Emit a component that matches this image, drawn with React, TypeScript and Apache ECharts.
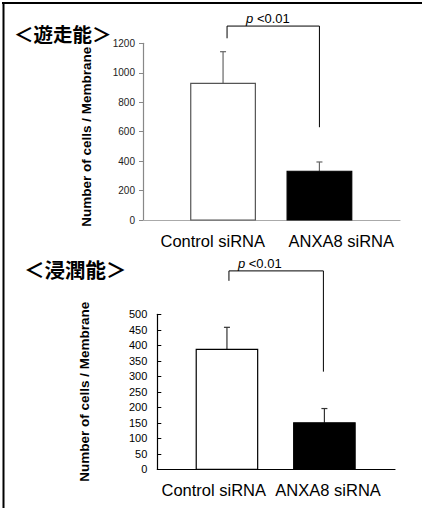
import React, { useEffect, useRef } from "react";
import * as echarts from "echarts";

// ---- data ----
const categories = ["Control siRNA", "ANXA8 siRNA"];

// migration (遊走能)
const migrationTitle = "＜遊走能＞";
const migrationMean = [928, 331];
const migrationSD = [215, 63];
const migrationTicks = { min: 0, max: 1200, interval: 200 };
// bracket: [left end value, top value, right end value]
const migrationBracket = [1234, 1317, 630];

// invasion (浸潤能)
const invasionTitle = "＜浸潤能＞";
const invasionMean = [387, 150];
const invasionSD = [71, 46];
const invasionTicks = { min: 0, max: 500, interval: 50 };
const invasionBracket = [608, 640, 315];

const yName = "Number of cells / Membrane";
const pText = "{i|p} <0.01";

const FONT = "Liberation Sans, Arial, sans-serif";

function barRenderer(opts: any) {
  return (params: any, api: any) => {
    const i = api.value(0);
    const mean = api.value(1);
    const sd = api.value(2);
    const catW = api.size([1, 0])[0];
    const top = api.coord([i, mean]);
    const base = api.coord([i, 0]);
    const errTop = api.coord([i, mean + sd]);
    const xc = top[0] + opts.shift[i] * catW;
    const bw = opts.barFrac * catW;
    return {
      type: "group",
      children: [
        {
          type: "line",
          shape: { x1: xc, y1: top[1], x2: xc, y2: errTop[1] },
          style: { stroke: opts.errColor, lineWidth: 1.2 },
        },
        {
          type: "line",
          shape: { x1: xc - 3, y1: errTop[1], x2: xc + 3, y2: errTop[1] },
          style: { stroke: opts.errColor, lineWidth: 1.2 },
        },
        {
          type: "rect",
          shape: { x: xc - bw / 2, y: top[1], width: bw, height: base[1] - top[1] },
          style: { fill: opts.fills[i], stroke: opts.strokes[i], lineWidth: 1.2 },
        },
      ],
    };
  };
}

function bracketRenderer(opts: any, bracket: number[]) {
  return (params: any, api: any) => {
    const catW = api.size([1, 0])[0];
    const x1 = api.coord([0, 0])[0] + opts.shift[0] * catW + opts.dxL;
    const x2 = api.coord([1, 0])[0] + opts.shift[1] * catW + opts.dxR;
    const yL = api.coord([0, bracket[0]])[1];
    const yT = api.coord([0, bracket[1]])[1];
    const yR = api.coord([1, bracket[2]])[1];
    return {
      type: "group",
      children: [
        {
          type: "polyline",
          shape: { points: [[x1, yL], [x1, yT], [x2, yT], [x2, yR]] },
          style: { stroke: "#000", lineWidth: 1, fill: null },
        },
        {
          type: "text",
          x: x1 + opts.textDx,
          y: yT - 1,
          style: {
            text: pText,
            fill: "#000",
            fontSize: 13,
            fontFamily: FONT,
            align: "left",
            verticalAlign: "bottom",
            rich: { i: { fontStyle: "italic", fontSize: 13, fontFamily: FONT, fill: "#000" } },
          },
        },
      ],
    };
  };
}

export default function App() {
  const ref = useRef<HTMLDivElement>(null);
  useEffect(() => {
    if (!ref.current) return;
    const chart = echarts.init(ref.current, null, { renderer: "svg" });

    const topOpts = {
      shift: [0.123, -0.127],
      barFrac: 0.503,
      errColor: "#666",
      fills: ["#fff", "#000"],
      strokes: ["#555", "#000"],
      dxL: 4,
      dxR: 0,
      textDx: 19,
    };
    const botOpts = {
      shift: [0.086, -0.094],
      barFrac: 0.517,
      errColor: "#333",
      fills: ["#fff", "#000"],
      strokes: ["#000", "#000"],
      dxL: 2,
      dxR: -1,
      textDx: 9,
    };

    const titleStyle = {
      fontSize: 19.5,
      lineHeight: 13,
      fontWeight: "bold",
      fontFamily: "Noto Sans CJK JP",
      fill: "#000",
    };

    const option: any = {
      animation: false,
      backgroundColor: "#fff",
      grid: [
        { left: 143, right: 22, top: 43.3, bottom: 288 },
        { left: 157.3, right: 27, top: 314.3, bottom: 38.7 },
      ],
      xAxis: [
        {
          type: "category",
          gridIndex: 0,
          data: categories,
          axisLine: { lineStyle: { color: "#aaa", width: 1.2 } },
          axisTick: { show: false },
          axisLabel: {
            interval: 0,
            margin: 12,
            color: "#000",
            fontSize: 16.5,
            fontFamily: FONT,
            padding: [0, 0, 0, 11],
          },
        },
        {
          type: "category",
          gridIndex: 1,
          data: categories,
          axisLine: { lineStyle: { color: "#000", width: 1.2 } },
          axisTick: { show: false },
          axisLabel: {
            interval: 0,
            margin: 12,
            color: "#000",
            fontFamily: FONT,
            fontSize: 16.5,
            formatter: (v: string, idx: number) => (idx === 0 ? "{a|" + v + "}" : "{b|" + v + "}"),
            rich: {
              a: { fontSize: 16.5, fontFamily: FONT, color: "#000", padding: [0, 6, 0, 0] },
              b: { fontSize: 16.5, fontFamily: FONT, color: "#000", padding: [0, 15, 0, 0] },
            },
          },
        },
      ],
      yAxis: [
        {
          type: "value",
          gridIndex: 0,
          ...migrationTicks,
          name: yName,
          nameLocation: "middle",
          nameRotate: 90,
          nameGap: 50,
          nameTextStyle: {
            fontSize: 13.5,
            fontWeight: "bold",
            fontFamily: FONT,
            color: "#000",
            padding: [0, 0, 0, -10],
          },
          axisLine: { show: true, lineStyle: { color: "#888", width: 1.2 } },
          axisTick: { show: true, inside: false, length: 4, lineStyle: { color: "#888" } },
          splitLine: { show: false },
          axisLabel: {
            margin: 8,
            color: "#222",
            fontSize: 10,
            lineHeight: 10,
            fontFamily: FONT,
            formatter: (v: number) => String(v),
          },
        },
        {
          type: "value",
          gridIndex: 1,
          ...invasionTicks,
          name: yName,
          nameLocation: "middle",
          nameRotate: 90,
          nameGap: 66,
          nameTextStyle: { fontSize: 13.5, fontWeight: "bold", fontFamily: FONT, color: "#000" },
          axisLine: { show: true, lineStyle: { color: "#000", width: 1.2 } },
          axisTick: { show: true, inside: true, length: 4, lineStyle: { color: "#000" } },
          splitLine: { show: false },
          axisLabel: {
            margin: 10,
            color: "#000",
            fontSize: 11,
            lineHeight: 11,
            fontFamily: FONT,
            formatter: (v: number) => String(v),
          },
        },
      ],
      graphic: [
        { type: "line", shape: { x1: 3.5, y1: 2, x2: 3.5, y2: 508 }, style: { stroke: "#000", lineWidth: 2 } },
        { type: "line", shape: { x1: 2, y1: 3, x2: 422, y2: 3 }, style: { stroke: "#000", lineWidth: 2 } },
        {
          type: "text",
          left: 14,
          top: 24,
          style: { ...titleStyle, text: migrationTitle },
        },
        {
          type: "text",
          left: 24,
          top: 258.5,
          style: { ...titleStyle, fontSize: 20.5, text: invasionTitle },
        },
      ],
      series: [
        {
          type: "custom",
          xAxisIndex: 0,
          yAxisIndex: 0,
          renderItem: barRenderer(topOpts),
          data: migrationMean.map((m, i) => [i, m, migrationSD[i]]),
        },
        {
          type: "custom",
          xAxisIndex: 0,
          yAxisIndex: 0,
          clip: false,
          renderItem: bracketRenderer(topOpts, migrationBracket),
          data: [[0, 0]],
        },
        {
          type: "custom",
          xAxisIndex: 1,
          yAxisIndex: 1,
          renderItem: barRenderer(botOpts),
          data: invasionMean.map((m, i) => [i, m, invasionSD[i]]),
        },
        {
          type: "custom",
          xAxisIndex: 1,
          yAxisIndex: 1,
          clip: false,
          renderItem: bracketRenderer(botOpts, invasionBracket),
          data: [[0, 0]],
        },
      ],
    };
    chart.setOption(option);
    return () => chart.dispose();
  }, []);
  return (
    <div
      ref={ref}
      style={{ position: "fixed", left: 0, top: 0, width: 422, height: 508, background: "#fff" }}
    />
  );
}
